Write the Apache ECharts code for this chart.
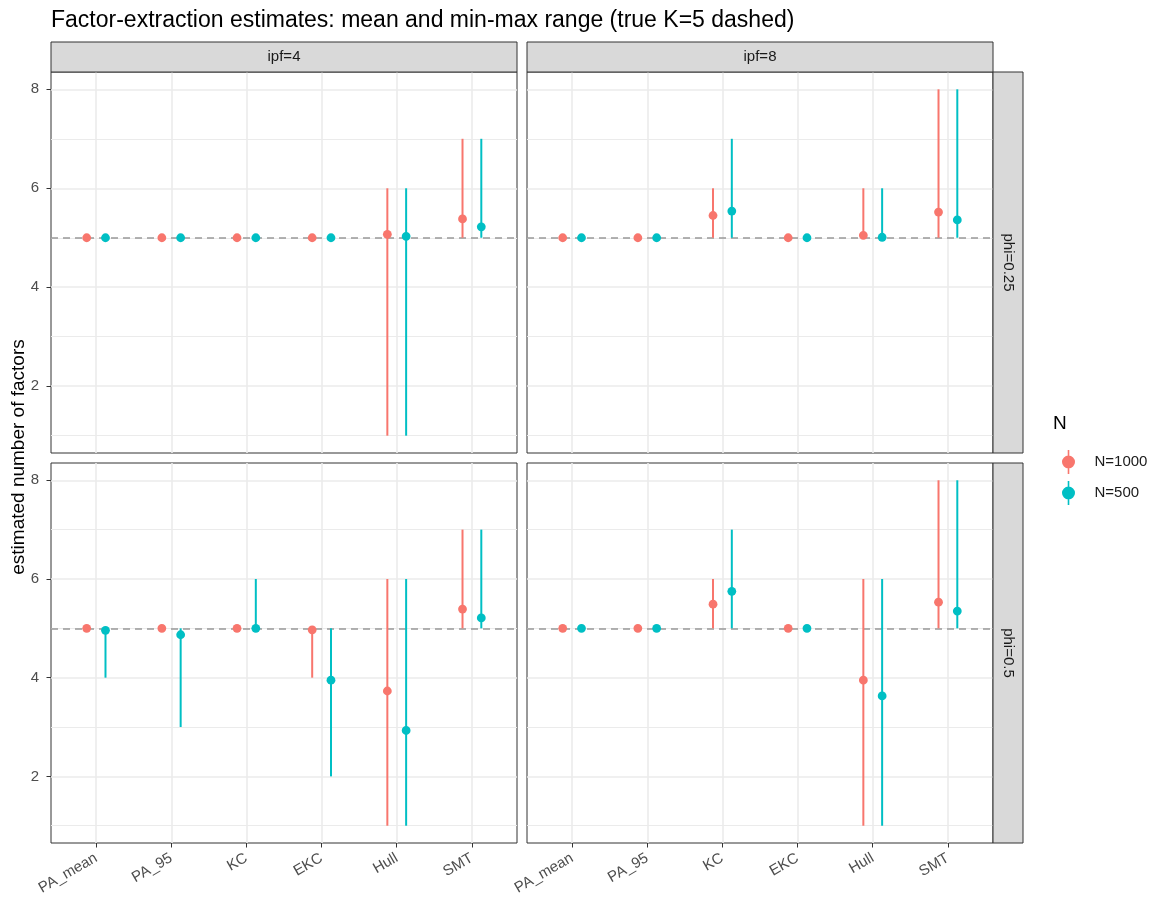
<!DOCTYPE html>
<html>
<head>
<meta charset="utf-8">
<script src="https://cdn.jsdelivr.net/npm/echarts@6/dist/echarts.min.js"></script>
<style>
html, body { margin: 0; padding: 0; background: #fff; }
#chart { width: 1170px; height: 910px; }
</style>
</head>
<body>
<div id="chart"></div>
<script>
// categories and tick labels
const categories = ['PA_mean', 'PA_95', 'KC', 'EKC', 'Hull', 'SMT'];
const xTicks = [1, 2, 3, 4, 5, 6];
const yTicks = [2, 4, 6, 8];
const yMinor = [1, 3, 5, 7];
const trueK = 5;
const seriesNames = ['N=1000', 'N=500'];

// ipf=4, phi=0.25
const i4p25_n1000_mean = [5, 5, 5, 5, 5.07, 5.38];
const i4p25_n1000_min  = [5, 5, 5, 5, 1, 5];
const i4p25_n1000_max  = [5, 5, 5, 5, 6, 7];
const i4p25_n500_mean  = [5, 5, 5, 5, 5.03, 5.22];
const i4p25_n500_min   = [5, 5, 5, 5, 1, 5];
const i4p25_n500_max   = [5, 5, 5, 5, 6, 7];

// ipf=8, phi=0.25
const i8p25_n1000_mean = [5, 5, 5.45, 5, 5.05, 5.52];
const i8p25_n1000_min  = [5, 5, 5, 5, 5, 5];
const i8p25_n1000_max  = [5, 5, 6, 5, 6, 8];
const i8p25_n500_mean  = [5, 5, 5.54, 5, 5.01, 5.36];
const i8p25_n500_min   = [5, 5, 5, 5, 5, 5];
const i8p25_n500_max   = [5, 5, 7, 5, 6, 8];

// ipf=4, phi=0.5
const i4p5_n1000_mean = [5, 5, 5, 4.97, 3.73, 5.39];
const i4p5_n1000_min  = [5, 5, 5, 4, 1, 5];
const i4p5_n1000_max  = [5, 5, 5, 5, 6, 7];
const i4p5_n500_mean  = [4.96, 4.87, 5, 3.95, 2.93, 5.21];
const i4p5_n500_min   = [4, 3, 5, 2, 1, 5];
const i4p5_n500_max   = [5, 5, 6, 5, 6, 7];

// ipf=8, phi=0.5
const i8p5_n1000_mean = [5, 5, 5.49, 5, 3.95, 5.53];
const i8p5_n1000_min  = [5, 5, 5, 5, 1, 5];
const i8p5_n1000_max  = [5, 5, 6, 5, 6, 8];
const i8p5_n500_mean  = [5, 5, 5.75, 5, 3.63, 5.35];
const i8p5_n500_min   = [5, 5, 5, 5, 1, 5];
const i8p5_n500_max   = [5, 5, 7, 5, 6, 8];

const panels = [
  { col: 'ipf=4', row: 'phi=0.25', n1000: [i4p25_n1000_mean, i4p25_n1000_min, i4p25_n1000_max], n500: [i4p25_n500_mean, i4p25_n500_min, i4p25_n500_max] },
  { col: 'ipf=8', row: 'phi=0.25', n1000: [i8p25_n1000_mean, i8p25_n1000_min, i8p25_n1000_max], n500: [i8p25_n500_mean, i8p25_n500_min, i8p25_n500_max] },
  { col: 'ipf=4', row: 'phi=0.5',  n1000: [i4p5_n1000_mean, i4p5_n1000_min, i4p5_n1000_max],     n500: [i4p5_n500_mean, i4p5_n500_min, i4p5_n500_max] },
  { col: 'ipf=8', row: 'phi=0.5',  n1000: [i8p5_n1000_mean, i8p5_n1000_min, i8p5_n1000_max],     n500: [i8p5_n500_mean, i8p5_n500_min, i8p5_n500_max] }
];

// layout
const colors = ['#F8766D', '#00BFC4'];
const dodge = 0.125;
const font = 'Liberation Sans, Arial, sans-serif';
const boxes = [
  { left: 51,  top: 72,  width: 466, height: 381 },
  { left: 527, top: 72,  width: 466, height: 381 },
  { left: 51,  top: 463, width: 466, height: 380 },
  { left: 527, top: 463, width: 466, height: 380 }
];

function pointRange(color) {
  return function (params, api) {
    const x = api.value(0);
    const mid = api.coord([x, api.value(1)]);
    const lo = api.coord([x, api.value(2)]);
    const hi = api.coord([x, api.value(3)]);
    return {
      type: 'group',
      children: [
        { type: 'line', shape: { x1: lo[0], y1: lo[1], x2: hi[0], y2: hi[1] }, style: { stroke: color, lineWidth: 2 } },
        { type: 'circle', shape: { cx: mid[0], cy: mid[1], r: 4.4 }, style: { fill: color } }
      ]
    };
  };
}

function rangeData(arrs, offset) {
  return categories.map((c, i) => [i + 1 + offset, arrs[0][i], arrs[1][i], arrs[2][i]]);
}

const grids = [], xAxes = [], yAxes = [], series = [], graphics = [];

panels.forEach((p, i) => {
  const b = boxes[i];
  const bottom = i >= 2, left = i % 2 === 0;
  grids.push({ left: b.left, top: b.top, width: b.width, height: b.height, show: true,
    borderColor: '#333333', borderWidth: 1, backgroundColor: 'transparent', outerBoundsMode: 'none' });

  xAxes.push({
    gridIndex: i, type: 'value', min: 0.4, max: 6.6,
    axisLine: { show: false }, splitLine: { show: false },
    axisTick: { show: bottom, customValues: xTicks, length: 4.5, lineStyle: { color: '#333333', width: 1 } },
    axisLabel: { show: bottom, customValues: xTicks, rotate: 30, margin: 14,
      formatter: v => categories[Math.round(v) - 1], color: '#4D4D4D', fontSize: 15, fontFamily: font }
  });
  yAxes.push({
    gridIndex: i, type: 'value', min: 0.65, max: 8.35,
    axisLine: { show: false }, splitLine: { show: false },
    axisTick: { show: left, customValues: yTicks, length: 4.5, lineStyle: { color: '#333333', width: 1 } },
    axisLabel: { show: left, customValues: yTicks, margin: 12, color: '#4D4D4D', fontSize: 15, fontFamily: font }
  });

  // grid lines
  const gl = [];
  yTicks.forEach(v => gl.push({ yAxis: v, lineStyle: { color: '#EBEBEB', width: 1.6, type: 'solid' } }));
  yMinor.forEach(v => gl.push({ yAxis: v, lineStyle: { color: '#EBEBEB', width: 1, type: 'solid' } }));
  xTicks.forEach(v => gl.push({ xAxis: v, lineStyle: { color: '#EBEBEB', width: 1.6, type: 'solid' } }));
  series.push({
    type: 'line', name: 'grid' + i, xAxisIndex: i, yAxisIndex: i, data: [], z: 1, silent: true,
    markLine: { z: 1, silent: true, symbol: ['none', 'none'], label: { show: false }, animation: false, data: gl }
  });
  series.push({
    type: 'line', name: 'ref' + i, xAxisIndex: i, yAxisIndex: i, data: [], z: 2, silent: true,
    markLine: { z: 2, silent: true, symbol: ['none', 'none'], label: { show: false }, animation: false,
      data: [{ yAxis: trueK, lineStyle: { color: '#999999', width: 1.6, type: [7, 5] } }] }
  });

  [p.n1000, p.n500].forEach((arrs, k) => {
    series.push({
      type: 'custom', name: seriesNames[k], xAxisIndex: i, yAxisIndex: i, z: 4,
      itemStyle: { color: colors[k] },
      renderItem: pointRange(colors[k]),
      encode: { x: 0, y: [1, 2, 3] },
      data: rangeData(arrs, k === 0 ? -dodge : dodge),
      animation: false
    });
  });

  // strips
  if (i < 2) {
    graphics.push({ type: 'rect', shape: { x: b.left, y: 42, width: b.width, height: 30 },
      style: { fill: '#D9D9D9', stroke: '#333333', lineWidth: 1 }, z: 10 });
    graphics.push({ type: 'text', x: b.left + b.width / 2, y: 57,
      style: { text: p.col, fill: '#1A1A1A', font: '15px ' + font, textAlign: 'center', textVerticalAlign: 'middle' }, z: 11 });
  }
  if (!left) {
    graphics.push({ type: 'rect', shape: { x: 993, y: b.top, width: 30, height: b.height },
      style: { fill: '#D9D9D9', stroke: '#333333', lineWidth: 1 }, z: 10 });
    graphics.push({ type: 'text', x: 1008, y: b.top + b.height / 2, rotation: -Math.PI / 2,
      style: { text: p.row, fill: '#1A1A1A', font: '15px ' + font, textAlign: 'center', textVerticalAlign: 'middle' }, z: 11 });
  }
});

// axis title and legend title
graphics.push({ type: 'text', x: 19, y: 457, rotation: Math.PI / 2,
  style: { text: 'estimated number of factors', fill: '#000', font: '19px ' + font, textAlign: 'center', textVerticalAlign: 'middle' } });
graphics.push({ type: 'text', x: 1053, y: 424,
  style: { text: 'N', fill: '#000', font: '19px ' + font, textAlign: 'left', textVerticalAlign: 'middle' } });

const option = {
  backgroundColor: '#ffffff',
  animation: false,
  textStyle: { fontFamily: font },
  title: {
    text: 'Factor-extraction estimates: mean and min-max range (true K=5 dashed)',
    left: 51, top: 9, padding: 0,
    textStyle: { fontSize: 23, fontWeight: 'normal', color: '#000', fontFamily: font }
  },
  legend: {
    data: seriesNames, orient: 'vertical', left: 1057, top: 445,
    itemWidth: 42, itemHeight: 24, itemGap: 7, selectedMode: false,
    icon: 'path://M6.2,0 L7.8,0 L7.8,24 L6.2,24 Z M7,5.5 A6.5,6.5 0 1 1 6.99,5.5 Z',
    textStyle: { fontSize: 15, color: '#1A1A1A', fontFamily: font }
  },
  grid: grids,
  xAxis: xAxes,
  yAxis: yAxes,
  series: series,
  graphic: graphics
};

const chart = echarts.init(document.getElementById('chart'));
chart.setOption(option);
window.onresize = function () { chart.resize(); };
</script>
</body>
</html>
